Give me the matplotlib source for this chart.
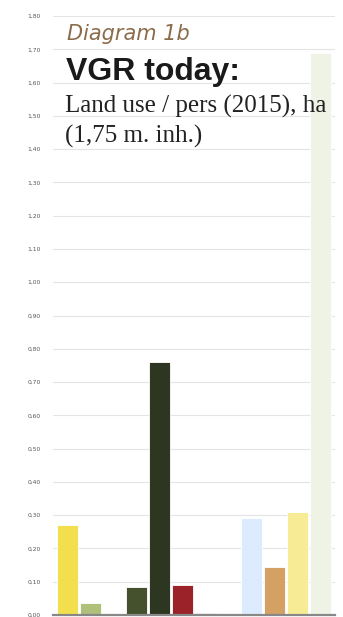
import numpy as np
from matplotlib import pyplot as plt
from matplotlib.ticker import FuncFormatter

# land use per person (ha), one bar per category; None marks an empty slot
values = [0.27, 0.035, None, 0.085, 0.76, 0.09, 0.005, None, 0.29, 0.145, 0.31, 1.69]
colors = ['#F3DF4E', '#AFC07A', None, '#44512C', '#2D3620', '#9A2228',
          '#C8763A', None, '#DCEBFD', '#D5A063', '#F8EB95', '#EEF3E6']
yticks = np.arange(0, 1.81, 0.1)

fig = plt.figure(figsize=(3.43, 6.17), dpi=100)
ax = fig.add_axes([53/343, 2/617, 282/343, 599/617])

for i, (v, c) in enumerate(zip(values, colors)):
    if v is None:
        continue
    ax.bar(i, v, width=0.9, color=c, edgecolor='white', linewidth=0.6, zorder=2)

ax.set_xlim(-0.62, 11.62)
ax.set_ylim(0, 1.8)
ax.set_yticks(yticks)
ax.yaxis.set_major_formatter(FuncFormatter(lambda v, p: '{:.2f}'.format(v).replace('.', ',')))
ax.tick_params(axis='y', length=0, pad=9, labelsize=4.3, labelcolor='#555555')
ax.set_xticks([])
ax.grid(axis='y', color='#e4e4e4', linewidth=0.8, zorder=0)
for s in ['top', 'right', 'left']:
    ax.spines[s].set_visible(False)
ax.spines['bottom'].set_color('#888888')
ax.spines['bottom'].set_linewidth(1.6)
ax.spines['bottom'].set_zorder(3)

# heading block
fig.text(67/343, 1 - 40/617, 'Diagram 1b', fontsize=15, style='italic',
         color='#8B6B4A', family='DejaVu Sans', va='baseline')
fig.text(66/343, 1 - 80/617, 'VGR today:', fontsize=23, weight='bold',
         color='#1a1a1a', family='Liberation Sans', va='baseline')
fig.text(65/343, 1 - 113/617, 'Land use / pers (2015), ha', fontsize=18,
         color='#222222', family='Liberation Serif', va='baseline')
fig.text(65/343, 1 - 143/617, '(1,75 m. inh.)', fontsize=18,
         color='#222222', family='Liberation Serif', va='baseline')

fig.savefig('out.png', dpi=100)
